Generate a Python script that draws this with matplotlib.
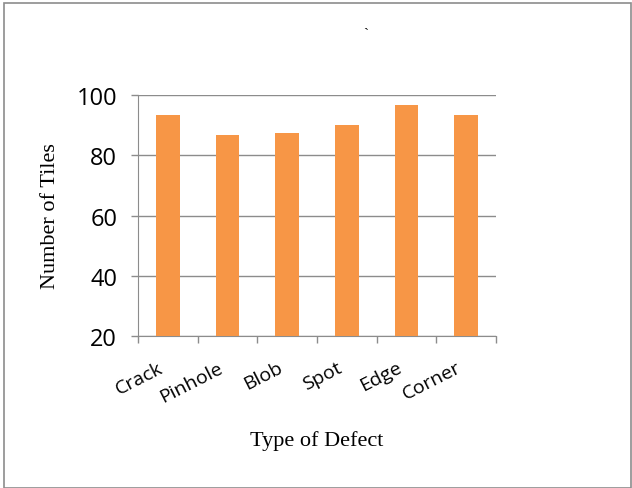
import matplotlib.pyplot as plt
from matplotlib.patches import Rectangle
from matplotlib.transforms import ScaledTranslation

defects = ['Crack', 'Pinhole', 'Blob', 'Spot', 'Edge', 'Corner']
tiles = [93.4, 86.8, 87.5, 90.0, 96.7, 93.4]
y_ticks = [20, 40, 60, 80, 100]

fig = plt.figure(figsize=(6.32, 4.89), dpi=100)
ax = fig.add_axes([0.2184, 0.3108, 0.5664, 0.4929])

x = list(range(len(defects)))
ax.bar(x, [t - 20 for t in tiles], bottom=20, width=0.4, color='#F79646', zorder=3)

ax.set_ylim(20, 100)
ax.set_xlim(-0.5, len(defects) - 0.5)
ax.set_yticks(y_ticks)
ax.set_yticklabels([str(v) for v in y_ticks], fontsize=17, family='Open Sans')
ax.yaxis.grid(True, color='#8c8c8c', linewidth=1)
ax.set_axisbelow(True)

ax.set_xticks(x)
ax.set_xticklabels(defects, rotation=27, ha='right', rotation_mode='anchor',
                   fontsize=14, family='Open Sans')
ax.set_xticks([i - 0.5 for i in range(len(defects) + 1)], minor=True)
ax.tick_params(axis='x', which='major', length=0, pad=16)
ax.tick_params(axis='x', which='minor', length=5, color='#8c8c8c', width=1)
ax.tick_params(axis='y', length=5, color='#8c8c8c', width=1, pad=10)

# nudge the slanted labels a little to the left (after tick_params, which resets transforms)
shift = ScaledTranslation(-10 / 100, 0, fig.dpi_scale_trans)
for lbl in ax.get_xticklabels():
    lbl.set_transform(lbl.get_transform() + shift)

for s in ['top', 'right']:
    ax.spines[s].set_visible(False)
for s in ['left', 'bottom']:
    ax.spines[s].set_color('#8c8c8c')

ax.set_ylabel('Number of Tiles', family='Liberation Serif', fontsize=16, labelpad=12)
ax.set_xlabel('Type of Defect', family='Liberation Serif', fontsize=16, labelpad=18)

fig.text(0.579, 0.93, '`', ha='center', va='center', fontsize=11, family='Liberation Serif')

fig.patches.append(Rectangle((4 / 632, 0), 627 / 632, 1 - 4 / 489, transform=fig.transFigure,
                             fill=False, edgecolor='#8c8c8c', linewidth=1.2))

fig.savefig('out.png', dpi=100)
